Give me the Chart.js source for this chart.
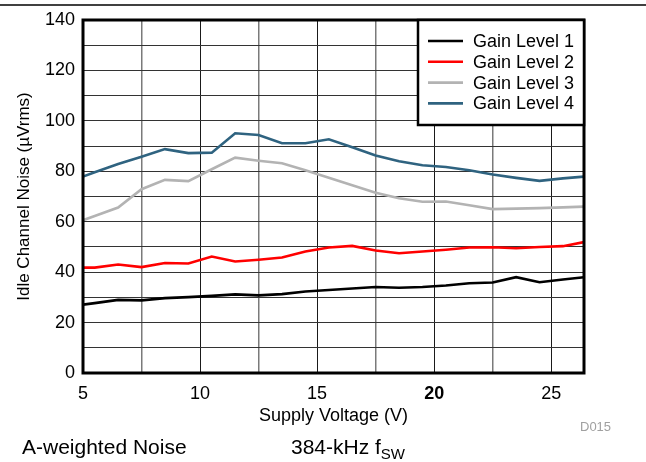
<!DOCTYPE html>
<html>
<head>
<meta charset="utf-8">
<script src="https://cdn.jsdelivr.net/npm/chart.js@4"></script>
<style>
  html, body { margin: 0; padding: 0; background: #fff; }
  #wrap { width: 646px; height: 462px; position: relative; }
</style>
</head>
<body>
<div id="wrap"><canvas id="noise"></canvas></div>
<script>
// ── Data ───────────────────────────────────────────────
var volts  = [5, 5.5, 6.5, 7.5, 8.5, 9.5, 10.5, 11.5, 12.5, 13.5, 14.5, 15.5, 16.5, 17.5, 18.5, 19.5, 20.5, 21.5, 22.5, 23.5, 24.5, 25.5, 26.4];
var gain1  = [27.1, 27.7, 29.0, 28.8, 29.7, 30.1, 30.6, 31.2, 30.8, 31.3, 32.3, 32.9, 33.5, 34.1, 33.8, 34.1, 34.7, 35.6, 35.9, 38.0, 36.0, 37.1, 38.0];
var gain2  = [41.8, 41.8, 43.0, 42.0, 43.6, 43.4, 46.2, 44.2, 44.9, 45.8, 48.2, 49.8, 50.4, 48.6, 47.5, 48.2, 48.9, 49.8, 49.9, 49.5, 50.0, 50.3, 51.9];
var gain3  = [60.6, 62.3, 65.6, 72.9, 76.6, 76.1, 80.8, 85.4, 84.2, 83.2, 80.4, 77.4, 74.5, 71.5, 69.3, 67.9, 68.0, 66.5, 65.0, 65.2, 65.4, 65.7, 66.0];
var gain4  = [77.9, 79.6, 82.9, 85.8, 88.8, 87.2, 87.4, 95.1, 94.4, 91.1, 91.1, 92.7, 89.5, 86.3, 84.0, 82.4, 81.7, 80.4, 78.7, 77.4, 76.2, 77.2, 77.9];
var seriesNames = ['Gain Level 1', 'Gain Level 2', 'Gain Level 3', 'Gain Level 4'];
var xTicks = [5, 7.5, 10, 12.5, 15, 17.5, 20, 22.5, 25];

var FONT = "'Liberation Sans', Arial, sans-serif";

function toPoints(ys) {
  return volts.map(function (v, i) { return { x: v, y: ys[i] }; });
}

function line(label, ys, color) {
  return {
    label: label,
    data: toPoints(ys),
    borderColor: color,
    backgroundColor: color,
    borderWidth: 2.6,
    pointRadius: 0,
    tension: 0,
    fill: false
  };
}

// ── Frame, legend box and captions ────────────────────
var extras = {
  id: 'extras',
  afterDraw: function (chart) {
    var c = chart.ctx, a = chart.chartArea;
    c.save();

    // page rule at top
    c.strokeStyle = '#000';
    c.lineWidth = 1.5;
    c.beginPath(); c.moveTo(0, 5); c.lineTo(646, 5); c.stroke();

    // plot frame
    c.lineWidth = 3;
    c.strokeRect(a.left, a.top, a.right - a.left, a.bottom - a.top);

    // legend box
    var bx = 418, by = a.top, bw = a.right - bx, bh = 105;
    c.fillStyle = '#fff';
    c.fillRect(bx, by, bw, bh);
    c.lineWidth = 2.5;
    c.strokeRect(bx, by, bw, bh);
    c.font = '18px ' + FONT;
    c.textBaseline = 'middle';
    c.textAlign = 'left';
    chart.data.datasets.forEach(function (ds, i) {
      var y = 41 + i * 20.8;
      c.strokeStyle = ds.borderColor;
      c.lineWidth = 2.6;
      c.beginPath(); c.moveTo(428, y); c.lineTo(463, y); c.stroke();
      c.fillStyle = '#000';
      c.fillText(ds.label, 473, y + 1);
    });

    // captions
    c.textBaseline = 'alphabetic';
    c.fillStyle = '#000';
    c.font = '21px ' + FONT;
    c.fillText('A-weighted Noise', 22, 454);
    c.fillText('384-kHz f', 291, 454);
    var w = c.measureText('384-kHz f').width;
    c.font = '15px ' + FONT;
    c.fillText('SW', 291 + w, 459);

    c.fillStyle = '#a0a0a0';
    c.font = '13px ' + FONT;
    c.fillText('D015', 580, 431);
    c.restore();
  }
};

// ── Chart ─────────────────────────────────────────────
new Chart(document.getElementById('noise'), {
  type: 'line',
  data: {
    datasets: [
      line(seriesNames[0], gain1, '#000000'),
      line(seriesNames[1], gain2, '#ff0000'),
      line(seriesNames[2], gain3, '#b3b3b3'),
      line(seriesNames[3], gain4, '#2f6380')
    ]
  },
  options: {
    responsive: true,
    maintainAspectRatio: false,
    animation: false,
    layout: { padding: { left: 0, right: 62, top: 20, bottom: 29 } },
    plugins: { legend: { display: false }, tooltip: { enabled: false } },
    scales: {
      x: {
        type: 'linear',
        min: 5,
        max: 26.4,
        afterBuildTicks: function (s) { s.ticks = xTicks.map(function (v) { return { value: v }; }); },
        afterFit: function (s) { s.height = 60; },
        border: { display: false },
        grid: {
          drawTicks: false,
          lineWidth: function (c) { return c.tick && c.tick.value % 5 === 0 ? 1 : 1.5; },
          color: function (c) { return c.tick && c.tick.value % 5 === 0 ? '#1a1a1a' : '#7a7a7a'; }
        },
        ticks: {
          padding: 10,
          color: '#000',
          maxRotation: 0,
          font: function (c) {
            return { family: FONT, size: 18, weight: c.tick && c.tick.value === 20 ? '600' : 'normal' };
          },
          callback: function (v) { return v % 5 === 0 ? v : ''; }
        },
        title: {
          display: true,
          text: 'Supply Voltage (V)',
          color: '#000',
          font: { family: FONT, size: 18 },
          padding: { top: 0, bottom: 6 }
        }
      },
      y: {
        min: 0,
        max: 140,
        afterFit: function (s) { s.width = 83; },
        border: { display: false },
        grid: { drawTicks: false, color: '#333', lineWidth: 1 },
        ticks: {
          stepSize: 10,
          padding: 8,
          color: '#000',
          font: { family: FONT, size: 18 },
          callback: function (v) { return v % 20 === 0 ? v : ''; }
        },
        title: {
          display: true,
          text: 'Idle Channel Noise (\u00b5Vrms)',
          color: '#000',
          font: { family: FONT, size: 17 },
          padding: { top: 14, bottom: 0 }
        }
      }
    }
  },
  plugins: [extras]
});
</script>
</body>
</html>
